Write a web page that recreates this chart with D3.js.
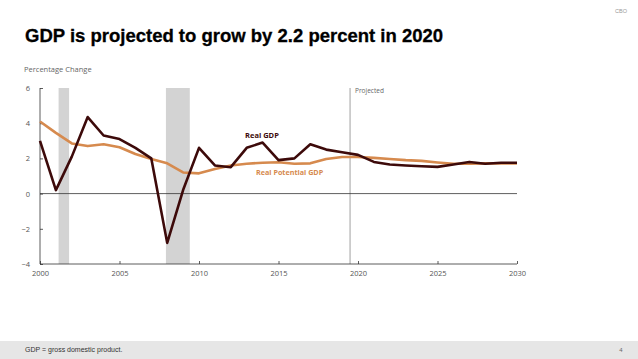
<!DOCTYPE html>
<html><head><meta charset="utf-8">
<script src="https://cdn.jsdelivr.net/npm/d3@7/dist/d3.min.js"></script>
<style>body{margin:0;background:#fff}svg{display:block}</style>
</head><body>
<script>
const years = d3.range(2000, 2031);
const realGDP = [3.0,0.2,2.1,4.35,3.3,3.1,2.6,2.0,-2.8,0.2,2.6,1.6,1.5,2.6,2.9,1.9,2.0,2.8,2.5,2.35,2.2,1.8,1.65,1.6,1.55,1.52,1.65,1.8,1.7,1.75,1.75];
const potentialGDP = [4.1,3.45,2.85,2.7,2.8,2.63,2.25,1.97,1.72,1.2,1.15,1.4,1.6,1.7,1.75,1.78,1.7,1.72,1.97,2.08,2.08,2.03,1.97,1.9,1.86,1.77,1.7,1.7,1.72,1.72,1.72];
const recessions = [[2001.17,2001.83],[2007.92,2009.42]];
const projectedStart = 2019.5;
const yTicks = [-4,-2,0,2,4,6];
const xTicks = [2000,2005,2010,2015,2020,2025,2030];

const W=638,H=359;
const svg=d3.select("body").append("svg").attr("width",W).attr("height",H);
const x=d3.scaleLinear().domain([2000,2030]).range([40,517]);
const y=d3.scaleLinear().domain([-4,6]).range([264,88]);
const font="Liberation Sans, Arial, sans-serif";
const gfont="Open Sans, Lato, sans-serif";

svg.append("text").attr("x",621).attr("y",13).attr("text-anchor","middle").attr("font-family",font).attr("font-size",5.5).attr("fill","#999").text("CBO");
svg.append("text").attr("x",25).attr("y",42).attr("font-family",font).attr("font-weight","bold").attr("font-size",18.5).attr("fill","#000").attr("stroke","#000").attr("stroke-width",0.3).text("GDP is projected to grow by 2.2 percent in 2020");
svg.append("text").attr("x",24).attr("y",72).attr("font-family",gfont).attr("font-size",7.5).attr("fill","#666").text("Percentage Change");

// recessions
svg.selectAll("rect.rec").data(recessions).join("rect").attr("class","rec")
 .attr("x",d=>x(d[0])).attr("width",d=>x(d[1])-x(d[0])).attr("y",y(6)).attr("height",y(-4)-y(6)).attr("fill","#d3d3d3");

// projected line
svg.append("line").attr("x1",x(projectedStart)).attr("x2",x(projectedStart)).attr("y1",y(6)).attr("y2",y(-4)).attr("stroke","#888").attr("stroke-width",0.8);
svg.append("text").attr("x",x(projectedStart)+5).attr("y",93).attr("font-family",gfont).attr("font-size",6.5).attr("fill","#666").text("Projected");

// zero line
svg.append("line").attr("x1",x(2000)).attr("x2",x(2030)).attr("y1",y(0)).attr("y2",y(0)).attr("stroke","#333").attr("stroke-width",0.8);

// axes
const yAxis=svg.append("g").attr("transform",`translate(${x(2000)},0)`).call(d3.axisRight(y).tickValues(yTicks).tickSize(3).tickFormat(d=>d<0?"\u2212"+Math.abs(d):d));
yAxis.select(".domain").attr("stroke","#333").attr("stroke-width",0.8).attr("d",`M0,${y(6)}V${y(-4)}`);
yAxis.selectAll(".tick line").attr("stroke","#333").attr("stroke-width",0.8);
yAxis.selectAll(".tick text").attr("x",-10).attr("text-anchor","end").attr("font-family",gfont).attr("font-size",7.5).attr("fill","#555");

const xAxis=svg.append("g").attr("transform",`translate(0,${y(-4)})`).call(d3.axisTop(x).tickValues(xTicks).tickSize(3).tickFormat(d3.format("d")));
xAxis.select(".domain").attr("stroke","#333").attr("stroke-width",0.8).attr("d",`M${x(2000)},0H${x(2030)}`);
xAxis.selectAll(".tick line").attr("stroke","#333").attr("stroke-width",0.8);
xAxis.selectAll(".tick text").attr("y",12).attr("dy",0).attr("font-family",gfont).attr("font-size",7.5).attr("fill","#555");

const line=d3.line().x((d,i)=>x(years[i])).y(d=>y(d));
svg.append("path").datum(potentialGDP).attr("d",line).attr("fill","none").attr("stroke","#d68a4e").attr("stroke-width",2.6).attr("stroke-linejoin","round");
svg.append("path").datum(realGDP).attr("d",line).attr("fill","none").attr("stroke","#3d0a0a").attr("stroke-width",2.6).attr("stroke-linejoin","round");

svg.append("text").attr("x",245).attr("y",138).attr("font-family",gfont).attr("font-weight","bold").attr("font-size",7.5).attr("fill","#3d0a0a").text("Real GDP");
svg.append("text").attr("x",256).attr("y",175).attr("font-family",gfont).attr("font-weight","bold").attr("font-size",7.2).attr("fill","#d68a4e").text("Real Potential GDP");

// footer
svg.append("rect").attr("x",0).attr("y",341).attr("width",W).attr("height",18).attr("fill","#e6e6e6");
svg.append("text").attr("x",25).attr("y",352).attr("font-family",font).attr("font-size",7).attr("fill","#333").text("GDP = gross domestic product.");
svg.append("text").attr("x",621).attr("y",352).attr("text-anchor","middle").attr("font-family",font).attr("font-size",6).attr("fill","#666").text("4");
</script>
</body></html>
